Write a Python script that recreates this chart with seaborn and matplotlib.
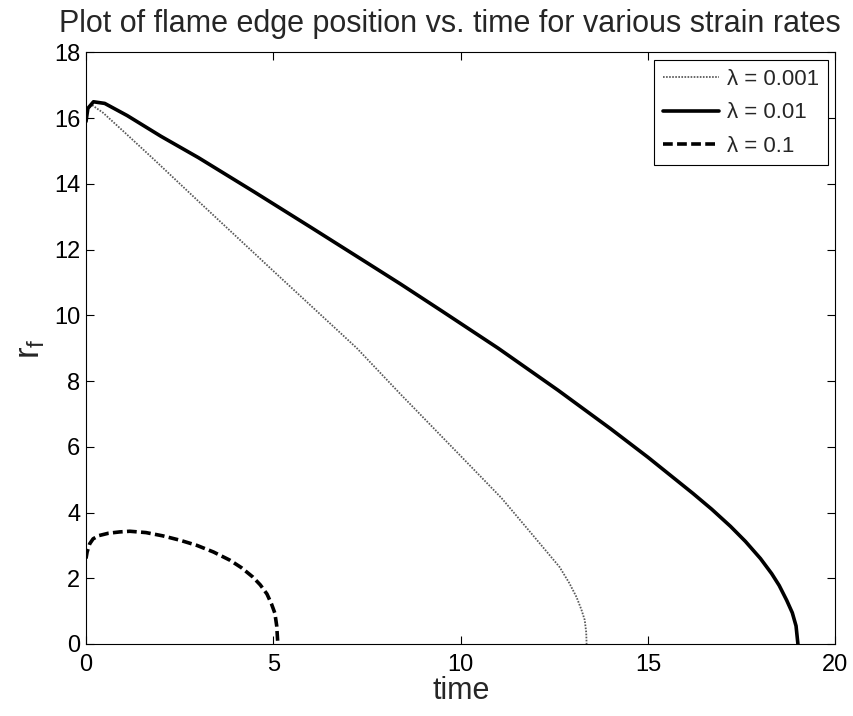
import matplotlib
matplotlib.use("Agg")
import matplotlib.pyplot as plt
import seaborn as sns
import pandas as pd

# flame edge radius r_f against time, one curve per strain rate
t_001 = [0.0, 0.05, 0.16, 0.45, 1.0, 1.79, 3.04, 5.0, 7.23, 8.37, 10.0, 11.09, 12.0,
         12.64, 12.9, 13.09, 13.22, 13.31, 13.35, 13.36]
r_001 = [16.1, 16.3, 16.4, 16.17, 15.6, 14.77, 13.43, 11.35, 9.0, 7.63, 5.72, 4.44, 3.21,
         2.34, 1.85, 1.43, 1.05, 0.73, 0.35, 0.0]

t_01 = [0.0, 0.05, 0.2, 0.5, 1.1, 2.0, 3.0, 4.5, 6.0, 7.5, 8.4, 9.5, 11.0, 12.6,
        14.0, 15.0, 16.2, 16.7, 17.2, 17.6, 18.0, 18.3, 18.5, 18.7, 18.85, 18.95, 19.0]
r_01 = [15.9, 16.3, 16.5, 16.45, 16.08, 15.45, 14.8, 13.75, 12.68, 11.6, 10.95, 10.13,
        9.0, 7.72, 6.55, 5.68, 4.58, 4.1, 3.58, 3.12, 2.6, 2.14, 1.78, 1.33, 0.95, 0.55,
        0.0]

t_1 = [0.0, 0.03, 0.1, 0.19, 0.35, 0.6, 0.9, 1.17, 1.6, 2.05, 2.5, 2.96, 3.4, 3.84,
       4.15, 4.45, 4.65, 4.83, 4.95, 5.04, 5.09, 5.12]
r_1 = [2.6, 2.8, 3.05, 3.2, 3.3, 3.37, 3.41, 3.43, 3.39, 3.29, 3.16, 3.0, 2.8, 2.55,
       2.32, 2.04, 1.8, 1.52, 1.22, 0.94, 0.55, 0.0]

labels = ["λ = 0.001", "λ = 0.01", "λ = 0.1"]
x_ticks = [0, 5, 10, 15, 20]
y_ticks = [0, 2, 4, 6, 8, 10, 12, 14, 16, 18]

frames = []
for lab, tt, rr in zip(labels, [t_001, t_01, t_1], [r_001, r_01, r_1]):
    frames.append(pd.DataFrame({"time": tt, "r": rr, "strain": lab}))
df = pd.concat(frames, ignore_index=True)

sns.set_style("ticks")
plt.rcParams["font.family"] = ["Liberation Sans", "DejaVu Sans"]
plt.rcParams["mathtext.fontset"] = "custom"
plt.rcParams["mathtext.rm"] = "Liberation Sans"

fig = plt.figure(figsize=(8.54, 7.16), dpi=100)
ax = fig.add_axes([0.1007, 0.1006, 0.8775, 0.8261])

styles = {
    "λ = 0.001": dict(lw=1.3, dashes=(0.9, 0.8), color="0.35"),
    "λ = 0.01": dict(lw=2.6, color="black"),
    "λ = 0.1": dict(lw=2.6, dashes=(2.7, 1.2), color="black"),
}
for lab in labels:
    sub = df[df["strain"] == lab]
    st = styles[lab]
    line_kw = dict(linewidth=st["lw"], color=st["color"])
    if "dashes" in st:
        line_kw["dashes"] = st["dashes"]
    sns.lineplot(data=sub, x="time", y="r", ax=ax, sort=False, estimator=None,
                 label=lab, **line_kw)

ax.set_xlim(0, 20)
ax.set_ylim(0, 18)
ax.set_xticks(x_ticks)
ax.set_yticks(y_ticks)
ax.tick_params(direction="in", length=6, width=0.8, top=True, right=True,
               labelsize=17, colors="black")
ax.tick_params(axis="x", pad=7)
ax.tick_params(axis="y", pad=4)
for sp in ax.spines.values():
    sp.set_visible(True)
    sp.set_linewidth(0.8)
    sp.set_color("black")

ax.set_xlabel("time", fontsize=22, labelpad=0)
ax.set_ylabel(r"$\mathregular{r_f}$", fontsize=25, labelpad=5)
ax.set_title("Plot of flame edge position vs. time for various strain rates",
             fontsize=22, pad=15, x=0.485)

leg = ax.legend(loc="upper right", fontsize=16, handlelength=2.5,
                handletextpad=0.35, borderaxespad=0.35, fancybox=False,
                framealpha=1, edgecolor="black", labelspacing=0.55,
                borderpad=0.4)
leg.get_frame().set_linewidth(0.8)

fig.savefig("out.png", dpi=100)
